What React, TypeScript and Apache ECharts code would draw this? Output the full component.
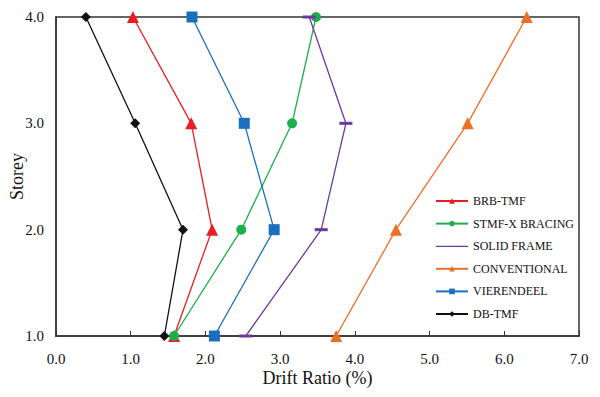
import React, { useEffect, useRef } from "react";
import * as echarts from "echarts";

const storeys = [1, 2, 3, 4];
const brbTmf = [1.58, 2.09, 1.81, 1.03];
const stmfX = [1.58, 2.48, 3.16, 3.48];
const solidFrame = [2.54, 3.55, 3.88, 3.39];
const conventional = [3.75, 4.55, 5.51, 6.30];
const vierendeel = [2.12, 2.92, 2.52, 1.82];
const dbTmf = [1.45, 1.70, 1.06, 0.40];

const seriesDefs = [
  { name: "BRB-TMF", values: brbTmf, color: "#ec1c24", symbol: "triangle", size: 12 },
  { name: "STMF-X BRACING", values: stmfX, color: "#1daf4a", symbol: "circle", size: 10 },
  { name: "SOLID FRAME", values: solidFrame, color: "#6a3a9e", symbol: "rect", size: [13, 3] },
  { name: "CONVENTIONAL", values: conventional, color: "#ec6f23", symbol: "triangle", size: 12 },
  { name: "VIERENDEEL", values: vierendeel, color: "#1a6fbf", symbol: "rect", size: 11 },
  { name: "DB-TMF", values: dbTmf, color: "#111111", symbol: "diamond", size: 10 },
];

const FONT = "Liberation Serif";

export default function App() {
  const ref = useRef<HTMLDivElement>(null);
  useEffect(() => {
    const chart = echarts.init(ref.current!, null, { renderer: "svg" });
    chart.setOption({
      animation: false,
      backgroundColor: "#fff",
      textStyle: { fontFamily: FONT },
      grid: {
        left: 56,
        right: 21,
        top: 17,
        bottom: 61,
        show: true,
        borderColor: "#333",
        borderWidth: 1.5,
        containLabel: false,
        outerBoundsMode: "none",
      },
      legend: {
        orient: "vertical",
        left: 430,
        top: 190,
        itemWidth: 32,
        itemHeight: 7,
        itemGap: 10.6,
        textStyle: { fontFamily: FONT, fontSize: 12, color: "#111" },
        data: seriesDefs.map((s) =>
          s.name === "SOLID FRAME"
            ? { name: s.name, icon: "path://M0,0 L0,0.01 M0,3 L32,3 L32,4.3 L0,4.3 Z M0,7 L0,7.01" }
            : { name: s.name }
        ),
      },
      xAxis: {
        type: "value",
        min: 0,
        max: 7,
        interval: 1,
        name: "Drift Ratio (%)",
        nameLocation: "middle",
        nameGap: 33,
        nameMoveOverlap: false,
        nameTextStyle: { fontFamily: FONT, fontSize: 18, color: "#111" },
        axisLine: { lineStyle: { color: "#333", width: 1.5 } },
        axisTick: { inside: true, length: 5, lineStyle: { color: "#333" } },
        axisLabel: {
          fontFamily: FONT,
          fontSize: 15,
          color: "#111",
          margin: 15,
          formatter: (v: number) => v.toFixed(1),
        },
        splitLine: { show: false },
      },
      yAxis: {
        type: "value",
        min: 1,
        max: 4,
        interval: 1,
        name: "Storey",
        nameLocation: "middle",
        nameGap: 30,
        nameMoveOverlap: false,
        nameRotate: 90,
        nameTextStyle: { fontFamily: FONT, fontSize: 18, color: "#111" },
        axisLine: { show: true, lineStyle: { color: "#333", width: 1.5 } },
        axisTick: { show: false },
        axisLabel: {
          fontFamily: FONT,
          fontSize: 15,
          color: "#111",
          margin: 12,
          formatter: (v: number) => v.toFixed(1),
        },
        splitLine: { show: false },
      },
      series: seriesDefs.map((s) => ({
        name: s.name,
        type: "line",
        clip: false,
        symbol: s.symbol,
        symbolSize: s.size,
        color: s.color,
        lineStyle: { color: s.color, width: 1.3 },
        itemStyle: { color: s.color },
        data: s.values.map((v, i) => [v, storeys[i]]),
      })),
    });
    return () => chart.dispose();
  }, []);
  return <div ref={ref} style={{ width: 600, height: 397, position: "absolute", left: 0, top: 0 }} />;
}
